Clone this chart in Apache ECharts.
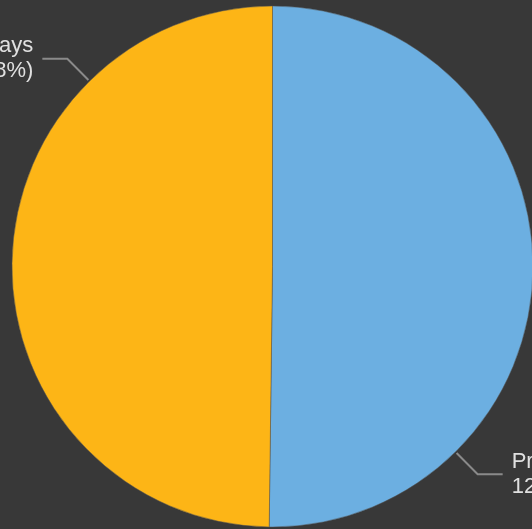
<!DOCTYPE html>
<html>
<head>
<meta charset="utf-8">
<script src="https://cdn.jsdelivr.net/npm/echarts@6/dist/echarts.min.js"></script>
<style>
html,body{margin:0;padding:0;background:#383838;}
#chart{width:532px;height:529px;}
</style>
</head>
<body>
<div id="chart"></div>
<script>
const categories = ['Present Days', 'Absent Days'];
const values = [124, 123];
const colors = ['#6cafe1', '#fdb516'];

const data = categories.map((name, i) => ({ name: name, value: values[i], itemStyle: { color: colors[i] } }));
const labelData = categories.map((name, i) => ({ name: name, value: values[i] }));

const chart = echarts.init(document.getElementById('chart'));
chart.setOption({
  backgroundColor: '#383838',
  animation: false,
  series: [
    {
      type: 'pie',
      center: [272.5, 266.5],
      radius: 260.5,
      startAngle: 90,
      clockwise: true,
      avoidLabelOverlap: false,
      label: { show: false },
      labelLine: { show: false },
      itemStyle: { borderColor: '#555', borderWidth: 0.5 },
      emphasis: { disabled: true },
      data: data
    },
    {
      type: 'pie',
      center: [272.5, 266.5],
      radius: 262,
      startAngle: 45,
      clockwise: true,
      silent: true,
      avoidLabelOverlap: false,
      itemStyle: { color: 'rgba(0,0,0,0)', borderWidth: 0 },
      label: {
        show: true,
        formatter: '{b}\n{c} ({d}%)',
        color: '#e0e0e0',
        fontSize: 22,
        lineHeight: 25,
        fontFamily: 'Liberation Sans, Arial, sans-serif',
        padding: [0, 4]
      },
      labelLine: {
        show: true,
        length: 30,
        length2: 25,
        lineStyle: { color: '#8a8a8a', width: 2 }
      },
      emphasis: { disabled: true },
      data: labelData
    }
  ]
});
</script>
</body>
</html>
